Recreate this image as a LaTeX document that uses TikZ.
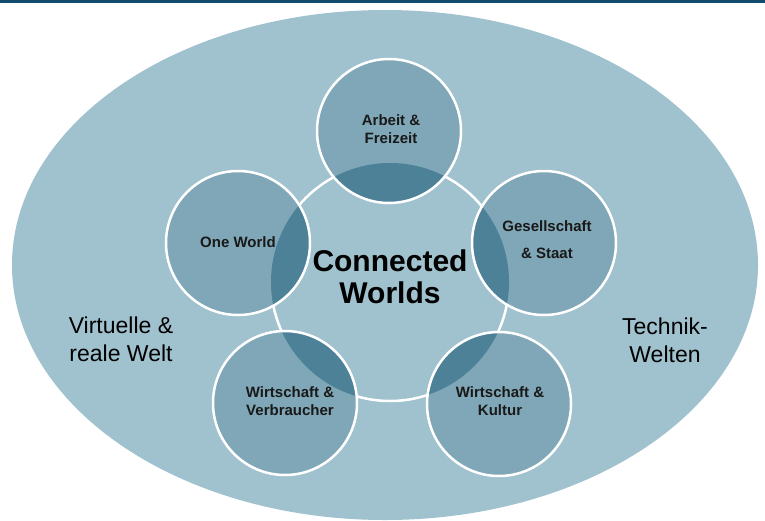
\documentclass[tikz,border=0pt]{standalone}
\usepackage{fontspec}
\setmainfont{Liberation Sans}
\usetikzlibrary{shapes.geometric}
\definecolor{bar}{HTML}{124B6B}
\definecolor{ellfill}{HTML}{A0C1CE}
\definecolor{circfill}{HTML}{7FA7B7}
\definecolor{lensfill}{HTML}{4C8198}
\begin{document}
\begin{tikzpicture}[x=1pt,y=-1pt,
  outer/.style={circle,minimum size=144pt,inner sep=0pt,outer sep=0pt},
  lbl/.style={align=center,font=\bfseries\fontsize{15}{18}\selectfont,text=black!90},
  side/.style={align=center,font=\fontsize{23}{28}\selectfont,text=black}]
\useasboundingbox (0,0) rectangle (765,520);
% top bar
\fill[bar] (0,0) rectangle (765,3);
% big ellipse
\node[ellipse,fill=ellfill,minimum width=746pt,minimum height=510pt,inner sep=0pt] (ell) at (385,265) {};
% central circle
\node[circle,draw=white,line width=2.5pt,minimum size=238pt,inner sep=0pt] (cen) at (390,282) {};
% outer circles fill
\foreach \n/\x/\y in {a/389/131, b/238/243, c/544/243, d/285/403, e/499/404}{
  \node[outer,fill=circfill] (\n) at (\x,\y) {};
}
% lenses
\foreach \x/\y in {389/131, 238/243, 544/243, 285/403, 499/404}{
  \begin{scope}
    \clip (390,282) circle (119pt);
    \fill[lensfill] (\x,\y) circle (72pt);
  \end{scope}
}
% outer circle outlines
\foreach \n in {a,b,c,d,e}{
  \draw[white,line width=2.5pt] (\n) circle (72pt);
}
% labels
\node[lbl] (ta) at (391,129) {Arbeit \&\\Freizeit};
\node[lbl] (tb) at (238,242) {One World};
\node[lbl,font=\bfseries\fontsize{15}{27}\selectfont] (tc) at (547,240) {Gesellschaft\\\& Staat};
\node[lbl] (td) at (290,401) {Wirtschaft \&\\Verbraucher};
\node[lbl] (te) at (500,401) {Wirtschaft \&\\Kultur};
\node[align=center,font=\bfseries\fontsize{30}{32}\selectfont] (cw) at (390,277) {Connected\\Worlds};
\node[side] (vl) at (121,339) {Virtuelle \&\\reale Welt};
\node[side] (tw) at (665,340) {Technik-\\Welten};
\end{tikzpicture}
\end{document}
